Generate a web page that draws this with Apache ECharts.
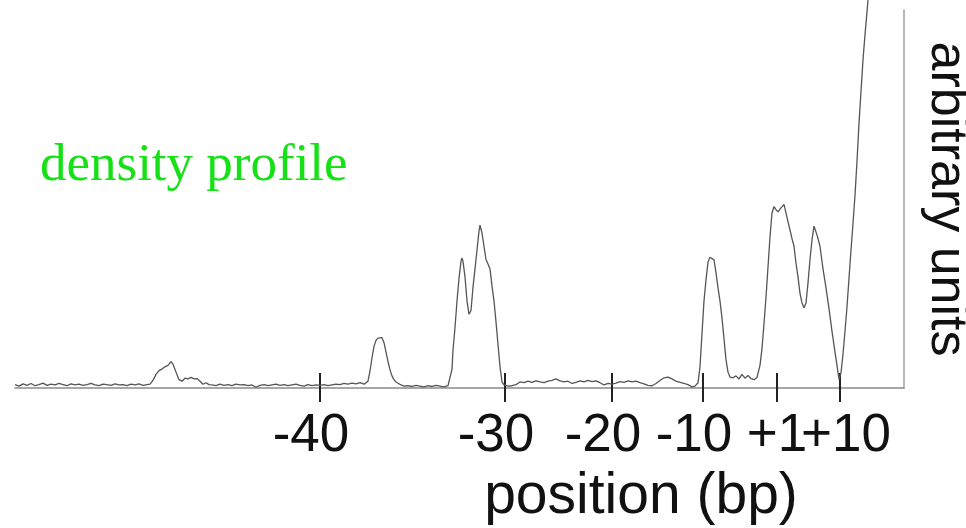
<!DOCTYPE html>
<html>
<head>
<meta charset="utf-8">
<script src="https://cdn.jsdelivr.net/npm/echarts@6/dist/echarts.min.js"></script>
<style>
  html, body { margin: 0; padding: 0; background: #ffffff; }
  #chart { width: 966px; height: 528px; }
</style>
</head>
<body>
<div id="chart"></div>
<script>
// Lane scan positions (along the gel lane) where the sequence markers fall
const tickPositions = [305, 490, 597, 688, 762, 825];
const tickLabels = ['-40', '-30', '-20', '-10', '+1', '+10'];

// Densitometry trace: [scan position, density (arbitrary units)]
const upstreamBaseline = [
  [0, 0.9], [4, 0.5], [8, 1.1], [12, 0.7], [16, 1.2], [20, 0.6], [24, 0.9], [28, 1.3],
  [32, 0.7], [36, 1.0], [40, 0.8], [44, 1.2], [48, 0.9], [52, 0.6], [56, 1.1], [60, 0.8],
  [64, 1.0], [68, 0.7], [72, 0.9], [76, 1.2], [80, 0.8], [84, 0.6], [88, 1.0], [92, 0.9],
  [96, 0.7], [100, 1.1], [104, 0.8], [108, 0.9], [112, 0.6], [116, 1.0], [120, 0.8],
  [124, 1.1], [128, 0.7], [132, 0.9]
];
const farBand = [
  [135, 1.0], [138, 2.0], [141, 3.6], [144, 4.6], [147, 5.0], [150, 5.6], [153, 6.0],
  [156, 7.0], [158, 6.3], [161, 4.2], [164, 2.2], [167, 1.8], [170, 2.6], [173, 2.4],
  [176, 2.8], [179, 2.4], [182, 2.5], [185, 1.8], [188, 1.0], [191, 1.4], [194, 0.9]
];
const midBaseline = [
  [197, 0.8], [201, 0.6], [205, 1.0], [209, 0.7], [213, 0.9], [217, 0.6], [221, 1.0],
  [225, 0.8], [229, 0.9], [233, 0.6], [237, 0.8], [241, 0.2], [245, 0.7], [249, 0.9],
  [253, 0.6], [257, 0.8], [261, 1.0], [265, 0.7], [269, 0.9], [273, 0.6], [277, 0.8],
  [281, 1.0], [285, 0.7], [289, 0.5], [293, 0.9], [297, 0.6], [301, 0.8], [305, 0.7],
  [309, 0.9], [313, 0.6], [317, 0.8], [321, 1.0], [325, 0.9], [329, 1.2], [333, 1.0],
  [337, 1.3], [341, 1.1], [345, 1.4], [349, 1.0]
];
const band37 = [
  [351, 0.9], [353, 1.8], [355, 4.5], [357, 8.0], [359, 11.0], [361, 12.6], [363, 13.2],
  [365, 12.8], [367, 13.3], [369, 12.0], [371, 9.5], [373, 7.0], [375, 4.8], [377, 3.2],
  [379, 2.2], [381, 1.6], [383, 1.3], [386, 0.8], [389, 0.5],
  [393, 0.6], [397, 0.4], [401, 0.7], [405, 0.5], [409, 0.3], [413, 0.6], [417, 0.4],
  [421, 0.7], [425, 0.5], [429, 0.3], [433, 0.6]
];
const tataBands = [
  [435, 1.0], [437, 5.0], [438, 10.0], [440, 16.0], [442, 23.0], [444, 29.0], [446, 33.5],
  [447, 34.4], [448, 33.5], [450, 29.4], [452, 23.0], [454, 19.5], [456, 20.5], [458, 26.7],
  [460, 31.5], [462, 36.5], [464, 41.5], [465, 43.1], [467, 41.0], [469, 37.5], [471, 34.0],
  [473, 32.8], [475, 31.5], [477, 27.0], [479, 23.0], [481, 17.5], [483, 11.5], [485, 5.6],
  [487, 1.6], [489, 0.8], [491, 0.4]
];
const proximalBaseline = [
  [493, 0.5], [497, 0.6], [501, 0.9], [505, 1.6], [509, 1.4], [513, 1.8], [517, 1.5],
  [521, 1.9], [525, 1.6], [529, 1.4], [533, 1.8], [537, 2.0], [541, 2.4], [545, 1.9],
  [549, 1.6], [553, 1.8], [557, 1.2], [561, 1.5], [565, 1.9], [569, 1.6], [573, 2.0],
  [577, 1.7], [581, 1.9], [585, 1.4], [589, 0.8], [593, 1.2], [597, 1.0], [601, 1.3],
  [605, 1.7], [609, 1.5], [613, 1.9], [617, 1.6], [621, 1.8], [625, 1.4], [629, 1.1],
  [633, 0.7], [637, 0.6], [641, 1.2], [645, 2.0], [649, 2.7], [653, 2.9], [657, 2.4],
  [661, 1.8], [665, 1.5], [669, 1.2], [673, 0.9], [677, 0.3], [680, 0.5], [683, 1.4]
];
const band10 = [
  [685, 5.6], [687, 14.5], [689, 23.0], [691, 28.6], [693, 33.3], [695, 34.6], [697, 34.9],
  [699, 33.9], [701, 30.5], [703, 26.5], [705, 23.0], [707, 18.5], [709, 13.0], [711, 7.5],
  [713, 4.2], [715, 2.9], [718, 2.7], [721, 3.2], [724, 2.4], [727, 3.6], [730, 2.6],
  [733, 3.3], [736, 2.5], [739, 2.2], [742, 2.8]
];
const startSiteBands = [
  [743, 3.0], [745, 6.0], [747, 10.5], [749, 17.0], [751, 24.0], [753, 32.0], [755, 40.0],
  [757, 46.3], [759, 48.0], [761, 47.2], [763, 46.6], [765, 47.3], [767, 47.8], [769, 48.6],
  [771, 49.0], [773, 44.0], [775, 41.8], [777, 39.5], [779, 37.5], [781, 33.0], [783, 29.4],
  [785, 25.0], [787, 22.5], [789, 21.2], [791, 22.5], [793, 27.8], [795, 34.0], [797, 39.2],
  [799, 42.8], [800, 43.1], [802, 40.5], [805, 37.5], [808, 31.5], [811, 26.5], [814, 21.0],
  [817, 15.0], [820, 9.5], [822, 6.0], [824, 2.3], [826, 4.0], [828, 9.0], [830, 15.0],
  [832, 21.5], [834, 29.0], [836, 36.5], [838, 43.5], [840, 51.0], [842, 60.0], [844, 70.0],
  [846, 78.5], [848, 86.8], [850, 93.5], [852, 99.5], [853, 102.6]
];

const profile = [].concat(
  upstreamBaseline, farBand, midBaseline, band37, tataBands,
  proximalBaseline, band10, startSiteBands
);

const SANS = '"Liberation Sans", Arial, Helvetica, sans-serif';
const SERIF = '"Liberation Serif", "Times New Roman", serif';

// The last marker label sits tight against "+1", so it is drawn by the
// second (tick-only) axis to keep the two labels from competing for space.
const mainTicks = tickPositions.slice(0, tickPositions.length - 1);
const lastTick = tickPositions.slice(tickPositions.length - 1);

const labelFont = { fontSize: 53, fontFamily: SANS, color: '#111111' };

// Upstream (negative) labels are set slightly left of their tick marks.
function labelFor(v) {
  const i = tickPositions.indexOf(v);
  if (i < 0) return '';
  const t = tickLabels[i];
  return t.charAt(0) === '-' ? '{up|' + t + '}' : '{dn|' + t + '}';
}

const labelStyle = Object.assign({
  show: true,
  hideOverlap: false,
  formatter: labelFor,
  margin: 22,
  rich: {
    up: Object.assign({ padding: [0, 18, 0, 0] }, labelFont),
    dn: Object.assign({}, labelFont)
  }
}, labelFont);

const chart = echarts.init(document.getElementById('chart'), null, { renderer: 'canvas' });

chart.setOption({
  animation: false,
  backgroundColor: '#ffffff',
  grid: { left: 15, right: 62, top: 10, bottom: 140, outerBoundsMode: 'none', containLabel: false },
  xAxis: [
    {
      type: 'value',
      min: 0,
      max: 889,
      position: 'bottom',
      axisLine: { show: true, onZero: false, lineStyle: { color: '#8a8a8a', width: 1.5 } },
      axisTick: {
        show: true,
        customValues: tickPositions,
        length: 14,
        lineStyle: { color: '#222222', width: 2 }
      },
      axisLabel: Object.assign({}, labelStyle, { customValues: mainTicks }),
      splitLine: { show: false }
    },
    {
      type: 'value',
      min: 0,
      max: 889,
      position: 'bottom',
      axisLine: { show: false, onZero: false },
      axisTick: {
        show: true,
        inside: true,
        customValues: tickPositions,
        length: 15,
        lineStyle: { color: '#222222', width: 2 }
      },
      axisLabel: Object.assign({}, labelStyle, {
        customValues: lastTick,
        inside: false,
        padding: [0, 0, 0, 12]
      }),
      splitLine: { show: false }
    }
  ],
  yAxis: {
    type: 'value',
    min: 0,
    max: 100,
    position: 'right',
    axisLine: { show: true, onZero: false, lineStyle: { color: '#a0a0a0', width: 1.5 } },
    axisTick: { show: false },
    axisLabel: { show: false },
    splitLine: { show: false },
    name: 'arbitrary units',
    nameLocation: 'middle',
    nameRotate: -90,
    nameGap: 16,
    nameTextStyle: { fontSize: 52, fontFamily: SANS, color: '#111111' }
  },
  graphic: [
    {
      type: 'text',
      left: 40,
      top: 140,
      style: {
        text: 'density profile',
        font: '53px ' + SERIF,
        fill: '#16e016'
      }
    },
    {
      type: 'text',
      x: 641,
      y: 497,
      style: {
        text: 'position (bp)',
        font: '57px ' + SANS,
        fill: '#111111',
        align: 'center',
        verticalAlign: 'middle'
      }
    }
  ],
  series: [
    {
      type: 'line',
      xAxisIndex: 0,
      data: profile,
      showSymbol: false,
      clip: false,
      lineStyle: { color: '#555555', width: 1.3 }
    }
  ]
});
</script>
</body>
</html>
